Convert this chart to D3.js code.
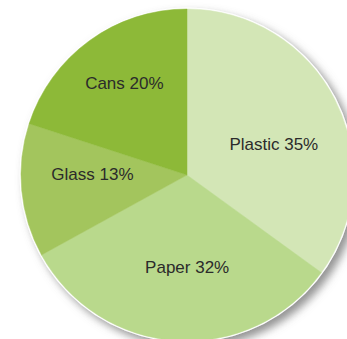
<!DOCTYPE html>
<html>
<head>
<meta charset="utf-8">
<script src="https://cdn.jsdelivr.net/npm/d3@7"></script>
<style>
    html, body { margin: 0; padding: 0; background: #fff; overflow: hidden; }
    svg { display: block; }
</style>
</head>
<body>
<svg id="pie"></svg>
<script>
// data
const categories = ["Plastic", "Paper", "Glass", "Cans"];
const shares = [35, 32, 13, 20];
const colors = ["#d3e6b6", "#b9d98c", "#a3c55d", "#8db938"];

// hand nudges for label placement (px), same order as categories
const labelNudge = [[4, 12], [6, 0], [-2, -9], [-8, -16]];

const width = 347, height = 339;
const cx = 187, cy = 175, radius = 166;

const svg = d3.select("#pie").attr("width", width).attr("height", height);

const defs = svg.append("defs");
const shadow = defs.append("filter")
    .attr("id", "shadow")
    .attr("x", "-20%").attr("y", "-20%")
    .attr("width", "140%").attr("height", "140%");
shadow.append("feDropShadow")
    .attr("dx", 5).attr("dy", 5)
    .attr("stdDeviation", 4)
    .attr("flood-color", "#6f6f6f")
    .attr("flood-opacity", 0.75);

const g = svg.append("g").attr("transform", `translate(${cx},${cy})`);

const rows = categories.map((c, i) => ({ name: c, value: shares[i], color: colors[i], i }));

const pie = d3.pie().sort(null).value(d => d.value);
const arc = d3.arc().innerRadius(0).outerRadius(radius);
const labelArc = d3.arc().innerRadius(radius * 0.56).outerRadius(radius * 0.56);

// outer disc with shadow and white rim
g.append("circle")
    .attr("r", radius)
    .attr("fill", "#fff")
    .attr("stroke", "#fff")
    .attr("stroke-width", 3)
    .attr("filter", "url(#shadow)");

const arcs = pie(rows);

g.selectAll("path.slice")
    .data(arcs)
    .enter()
    .append("path")
    .attr("class", "slice")
    .attr("d", arc)
    .attr("fill", d => d.data.color)
    .attr("stroke", d => d.data.color)
    .attr("stroke-width", 0.5);

g.selectAll("text.label")
    .data(arcs)
    .enter()
    .append("text")
    .attr("class", "label")
    .attr("transform", d => {
        const [x, y] = labelArc.centroid(d);
        const n = labelNudge[d.data.i];
        return `translate(${x + n[0]},${y + n[1]})`;
    })
    .attr("text-anchor", "middle")
    .attr("dominant-baseline", "central")
    .attr("font-family", "'Liberation Sans', Arial, sans-serif")
    .attr("font-size", 17)
    .attr("fill", "#2b2b2b")
    .text(d => `${d.data.name} ${d.data.value}%`);
</script>
</body>
</html>
